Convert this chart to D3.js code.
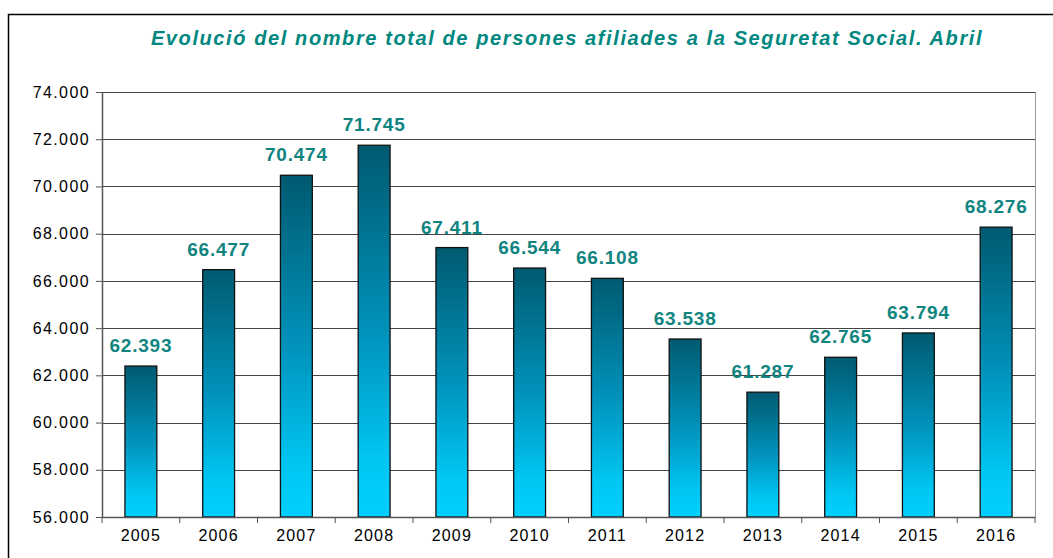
<!DOCTYPE html>
<html>
<head>
<meta charset="utf-8">
<script src="https://cdn.jsdelivr.net/npm/d3@7"></script>
<style>
  body { margin: 0; background: #fff; }
  svg { display: block; font-family: "Liberation Sans", Arial, sans-serif; }
</style>
</head>
<body>
<script>
// chart values
const years = ['2005', '2006', '2007', '2008', '2009', '2010', '2011', '2012', '2013', '2014', '2015', '2016']
const afiliats = [62393, 66477, 70474, 71745, 67411, 66544, 66108, 63538, 61287, 62765, 63794, 68276]
const yTicks = [56000, 58000, 60000, 62000, 64000, 66000, 68000, 70000, 72000, 74000]
const title = 'Evolució del nombre total de persones afiliades a la Seguretat Social. Abril'

const W = 1053, H = 558
const margin = {top: 92, right: 18, bottom: 41, left: 102}
const width = W - margin.left - margin.right,
    height = H - margin.top - margin.bottom

const fmt = d3.formatLocale({decimal: ',', thousands: '.', grouping: [3], currency: ['', '']}).format(',')

const svg = d3.select('body').append('svg')
    .attr('width', W)
    .attr('height', H)

// outer frame
svg.append('rect')
    .attr('x', 8.5).attr('y', 14.5)
    .attr('width', W + 10).attr('height', H + 10)
    .attr('fill', 'none').attr('stroke', '#000').attr('stroke-width', 1.5)

const grad = svg.append('defs').append('linearGradient')
    .attr('id', 'barGrad')
    .attr('x1', 0).attr('y1', 0).attr('x2', 0).attr('y2', 1)
grad.append('stop').attr('offset', '0%').attr('stop-color', '#005a70')
grad.append('stop').attr('offset', '50%').attr('stop-color', '#0092bb')
grad.append('stop').attr('offset', '85%').attr('stop-color', '#00c6f3')
grad.append('stop').attr('offset', '100%').attr('stop-color', '#00d0ff')

svg.append('text')
    .attr('x', 567).attr('y', 45)
    .attr('text-anchor', 'middle')
    .attr('fill', '#00877f')
    .style('font-size', '20px')
    .style('font-weight', 'bold')
    .style('font-style', 'italic')
    .style('letter-spacing', '1.6px')
    .text(title)

const g = svg.append('g')
    .attr('transform', 'translate(' + margin.left + ',' + margin.top + ')')

const x = d3.scaleBand()
    .domain(years)
    .range([0, width])
    .paddingInner(0.59)
    .paddingOuter(0.295)
const y = d3.scaleLinear()
    .domain([56000, 74000])
    .range([height, 0])

// gridlines
g.selectAll('.grid')
    .data(yTicks)
    .enter().append('line')
    .attr('class', 'grid')
    .attr('x1', 0).attr('x2', width)
    .attr('y1', d => Math.round(y(d)) + 0.5)
    .attr('y2', d => Math.round(y(d)) + 0.5)
    .attr('stroke', '#444')
    .attr('stroke-width', 1)

// right border of plot area
g.append('line')
    .attr('x1', width + 0.5).attr('x2', width + 0.5)
    .attr('y1', 0).attr('y2', height)
    .attr('stroke', '#999')

// bars
g.selectAll('.bar')
    .data(afiliats)
    .enter().append('rect')
    .attr('class', 'bar')
    .attr('x', (d, i) => x(years[i]))
    .attr('width', x.bandwidth())
    .attr('y', d => y(d))
    .attr('height', d => height - y(d))
    .attr('fill', 'url(#barGrad)')
    .attr('stroke', '#111')
    .attr('stroke-width', 1.3)

// value labels
g.selectAll('.lbl')
    .data(afiliats)
    .enter().append('text')
    .attr('class', 'lbl')
    .attr('x', (d, i) => x(years[i]) + x.bandwidth() / 2)
    .attr('y', d => y(d) - 14)
    .attr('text-anchor', 'middle')
    .attr('fill', '#108580')
    .style('font-size', '19px')
    .style('font-weight', 'bold')
    .style('letter-spacing', '0.8px')
    .text(d => fmt(d))

// x axis
const xAxis = g.append('g')
    .attr('transform', 'translate(0,' + height + ')')
    .call(d3.axisBottom(x).tickSize(0).tickPadding(13))
xAxis.select('.domain').attr('stroke', '#555').attr('stroke-width', 1.5)
xAxis.selectAll('text').style('font-size', '16px').style('letter-spacing', '1.2px').attr('fill', '#000')
xAxis.selectAll('.sep')
    .data(d3.range(years.length + 1))
    .enter().append('line')
    .attr('class', 'sep')
    .attr('x1', i => i * x.step()).attr('x2', i => i * x.step())
    .attr('y1', 0).attr('y2', 6)
    .attr('stroke', '#555')

// y axis
const yAxis = g.append('g')
    .call(d3.axisLeft(y).tickValues(yTicks).tickFormat(fmt).tickSize(6).tickPadding(6).tickSizeOuter(0))
yAxis.select('.domain').attr('stroke', '#555').attr('stroke-width', 1.5)
yAxis.selectAll('line').attr('stroke', '#555')
yAxis.selectAll('text').style('font-size', '16px').style('letter-spacing', '1.4px').attr('fill', '#000')
</script>
</body>
</html>
